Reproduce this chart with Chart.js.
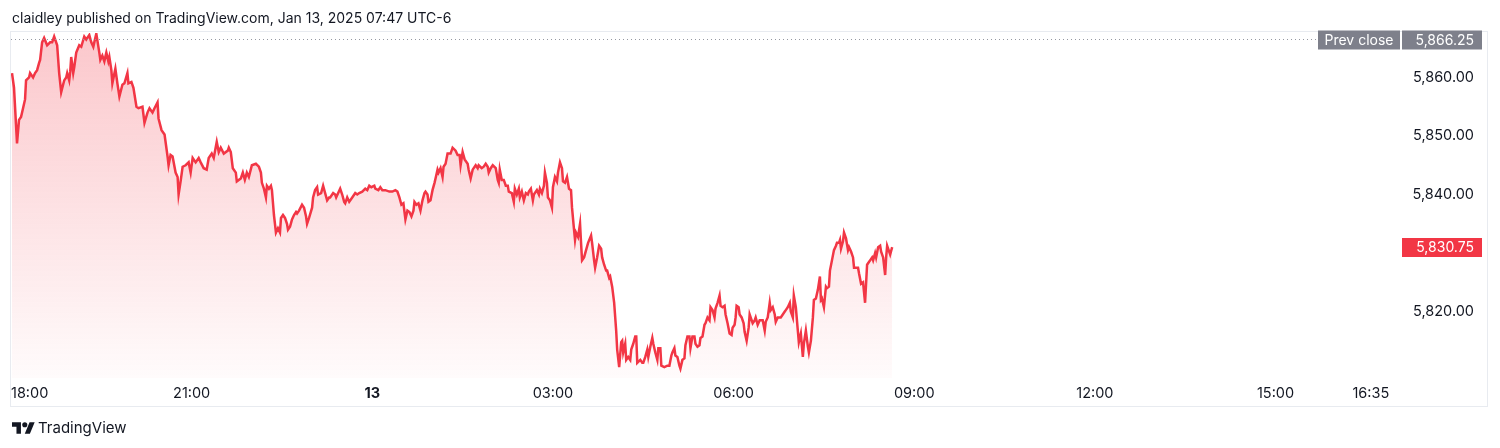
<!DOCTYPE html>
<html lang="en">
<head>
  <meta charset="UTF-8" />
  <title>ES1! intraday</title>
  <script src="https://cdn.jsdelivr.net/npm/chart.js"></script>
  <style>
    body { margin: 0; background: #fff; font-family: Inter, "Noto Sans", sans-serif; color: #131722; }
    #wrap { position: relative; width: 1500px; height: 448px; overflow: hidden; }
    #chart { position: absolute; left: 0; top: 0; }
    #head { position: absolute; left: 12px; top: 8px; font-size: 14px; line-height: 20px; }
    #foot { position: absolute; left: 12px; top: 418px; font-size: 15px; line-height: 20px; display: flex; align-items: center; }
    #foot svg { margin-right: 3px; }
  </style>
</head>
<body>
<div id="wrap">
  <canvas id="chart" width="1500" height="448"></canvas>
  <div id="head">claidley published on TradingView.com, Jan 13, 2025 07:47 UTC-6</div>
  <div id="foot">
    <svg width="23" height="12" viewBox="0 4 36 18"><path fill="#131722" d="M14 22H7V11H0V4h14v18zM28 22h-8l7.5-18h8L28 22z"/><circle fill="#131722" cx="20" cy="8" r="4"/></svg>
    TradingView
  </div>
</div>

<script>
  // minutes after 18:00 (session open), prices
  const minutes = [
    1,3,6,8,10,12,14,15,18,19, 22,24,26,28,29,31,33,36,39,41,
    43,46,48,50,53,55,56,58,59,60, 62,63,65,68,70,73,75,78,80,82,
    83,85,88,89,91,93,95,97,98,100, 101,104,106,108,111,113,116,117,120,122,
    125,127,131,133,136,138,141,143,146,147, 150,153,156,157,159,161,164,166,167,169,
    171,174,177,179,181,184,187,189,192,195, 197,200,202,205,207,209,212,216,
    217,219,221,224,225,229,231,233,235,237, 240,244,247,249,250,252,254,255,257,259,
    260,262,264,266,268,269,271,273,275,276, 278,280,282,284,285,287,290,292,294,295,
    297,300,301,303,305,306,309,311,313,315, 317,318,321,323,324,326,328,330,332,333,
    335,337,340,343,345,347,350,353,355,357, 359,362,363,366,368,370,373,377,380,383,
    385,387,389,391,393,395,397,399,401,402, 404,406,408,410,412,413,415,416,418,420,
    422,423,425,426,428,430,431,433,
    435,438,440,443,445,447,448,450,452,455, 456,458,460,463,465,466,469,471,473,475,
    476,478,480,483,485,486,487,489,491,493, 495,496,499,501,502,504,506,507,509,511,
    513,515,516,518,520,521,524,526,527,529, 531,532,534,535,537,539,540,542,544,545,
    547,549,550,552,554,556,558,559,561,562, 563,565,567,568,569,571,573,575,578,579,
    581,582,584,586,588,589,591,593,594,596, 597,599,601,603,604,606,608,609,610,612,
    613,615,617,618,620,622,623,624,627,629, 630,632,634,635,637,639,640,642,644,645,
    647,648,651,654,656,
    658,659,661,662,664,666,667,669,671,672, 674,676,677,679,681,682,684,686,687,689,
    691,692,694,696,697,699,701,702,704,706, 707,709,711,712,714,716,718,719,721,722,
    723,725,726,728,730,731,733,735,736,737, 739,741,742,744,746,748,749,751,752,754,
    756,757,759,761,762,764,766,767,769,771, 772,774,776,777,779,780,782,784,785,787,
    789,790,792,794,795,797,799,800,802,804, 806,807,808,810,812,813,815,816,818,820,
    822,823,825,826,827,829,830,832,834,835, 837,839,840,842,844,845,847,849,850,851,
    853,855,856,858,859,861,862,864,866,867, 869,871,872,873,875,876,878
  ];
  const prices = [
    5860.5,5858,5848.5,5852.5,5853,5854.5,5856,5859.25,5859.75,5860.5, 5859.75,5860.5,5861,5862.25,5862.75,5865.75,5866.5,5865.25,5865.75,5865.75,
    5866.75,5865.25,5860.5,5857.25,5859.25,5859.75,5860.5,5859.25,5860.75,5863.25, 5860.5,5861.5,5864,5865.25,5865,5866.75,5866.25,5867,5865.75,5865,
    5865.75,5867.25,5864,5862.75,5863.5,5862.5,5864,5862.5,5863.25,5861, 5858.75,5861.25,5858.75,5856.5,5858.5,5858.75,5860.5,5858.75,5859,5858,
    5854.75,5854.5,5854.75,5852,5853.75,5854.5,5853.75,5854.5,5855.5,5852.75, 5850.75,5850,5846.25,5844.75,5846.5,5846.25,5843.5,5842.75,5839.75,5842,
    5844.5,5844.75,5845.25,5843.5,5846,5845.25,5846,5845.25,5844.25,5844, 5846,5846.75,5846,5848.75,5847,5847.75,5846.75,5847.25,
    5847.75,5847,5844.25,5843.5,5842,5842.5,5843.5,5842.25,5843.5,5842.75, 5844.75,5845,5844.5,5843.5,5841.75,5840.75,5839.25,5841.25,5840.75,5841.25,
    5840.5,5836.25,5833.25,5834,5833.25,5835.75,5836.25,5835.75,5834.75,5833.75, 5834.25,5835.5,5836.25,5836.75,5836.5,5837,5838,5837.5,5836,5834.75,
    5835.75,5837.5,5839.25,5840.5,5841,5839.75,5840,5841.25,5840,5838.75, 5839.25,5839.25,5840,5839.75,5839.25,5840,5840.75,5839.75,5838.5,5838.25,
    5839.25,5838.5,5839.25,5840,5839.75,5840,5840.25,5840.75,5840.5,5841.25, 5841,5841.25,5840.75,5840.5,5841,5840.5,5840.5,5840.25,5840.25,5840.5,
    5840.25,5839.25,5838,5838.25,5835.5,5837,5836.75,5836,5837,5838.5, 5838,5838.25,5837,5838.75,5840,5840.25,5839.75,5838.5,5838.75,5840.5,
    5841.75,5842.5,5844,5843.5,5844.25,5842.75,5844.5,5845,
    5846.75,5846.75,5847.75,5847.25,5846.5,5846.5,5844.75,5847,5845.75,5845, 5844,5842.5,5844,5844.75,5844.25,5844.75,5844.25,5844.5,5845,5844.5,
    5843.5,5844.25,5844.75,5844.25,5842.25,5841.75,5844,5842.25,5842.25,5841.25, 5841.25,5840.25,5840,5838.5,5840.75,5839.75,5840.75,5839.25,5840.25,5838.75,
    5840,5839.75,5840.25,5840.75,5838.75,5839.75,5840.5,5839.75,5840.75,5840, 5841.25,5843.5,5841.75,5839.25,5838.75,5837.5,5841,5842.75,5842,5843.5,
    5845.25,5844.25,5842,5841.75,5842.75,5840.75,5840.5,5837.5,5833.75,5832, 5833.25,5832.5,5834.75,5831.5,5828.5,5829,5830.25,5831.5,5832.75,5831.5,
    5828.5,5827.25,5829,5831,5830.5,5829,5827.75,5826.75,5826.75,5825.5, 5825.75,5824,5821.25,5816.5,5813.25,5810.25,5814.5,5814.75,5812.75,5814.25,
    5811.5,5812,5811.5,5813.25,5814.25,5815.5,5815.5,5811,5811.5,5811, 5811,5812,5813.25,5812,5813.75,5815.25,5814.25,5812.75,5811.5,5813.5,
    5813.5,5810.5,5810.25,5810.5,5810.5,
    5812.25,5812.75,5813.5,5812.25,5812,5810.5,5810,5811.5,5811.75,5814, 5815.5,5815.5,5813.5,5815.5,5815.5,5814.25,5813.75,5814,5815.25,5815.5,
    5817.5,5817.75,5818.75,5818.25,5820.5,5820,5818.75,5820.25,5821.25,5822.5, 5820.75,5820.5,5820.75,5819.25,5817.75,5816,5815.75,5817,5817.5,5818.75,
    5820.75,5820.5,5819.25,5818.75,5817.75,5816.25,5814.75,5817,5819.25,5818.75, 5817.75,5818.25,5818.75,5817.5,5818.25,5818.25,5818.25,5816.5,5818,5818.75,
    5821.25,5820,5820.5,5819.25,5818,5818.75,5818.75,5818.75,5819.25,5819.75, 5820,5820.5,5821.25,5819.75,5818.75,5822.5,5820.5,5816.5,5814.5,5816,
    5812,5814.25,5816.5,5813.75,5812.75,5814.75,5818.75,5821.75,5822,5823.5, 5825.75,5821.75,5822,5820.5,5824,5823.75,5824,5826.75,5828.5,5830.25,
    5831,5831.5,5831.5,5832,5830.5,5831.75,5833.25,5832.25,5830.25,5830.75, 5830,5829,5827.25,5827.25,5827.25,5826.25,5824.5,5824.75,5823,5821.25,
    5827.75,5828.25,5828.5,5829,5828.5,5829.75,5829,5830.75,5831,5830, 5829,5826,5829,5831,5830,5829.5,5830.75
  ];

  const xTickValues = [0, 180, 360, 540, 720, 900, 1080, 1260, 1355];
  const xTickLabels = ['18:00', '21:00', '13', '03:00', '06:00', '09:00', '12:00', '15:00', '16:35'];
  const yTickValues = [5820, 5840, 5850, 5860];
  const prevClose = 5866.25;
  const lastPrice = 5830.75;

  const RED = '#f23645';
  const fmt = v => v.toLocaleString('en-US', { minimumFractionDigits: 2, maximumFractionDigits: 2 });
  const FONT = 'Inter, "Noto Sans", sans-serif';

  const overlay = {
    id: 'overlay',
    afterDraw(chart) {
      const c = chart.ctx, a = chart.chartArea, ys = chart.scales.y;
      c.save();
      // frame
      c.strokeStyle = '#e8ebf0';
      c.lineWidth = 1;
      c.strokeRect(10.5, 31.5, 1477, 375);

      // prev close dotted line
      const py = Math.round(ys.getPixelForValue(prevClose)) + 0.5;
      c.setLineDash([1, 3]);
      c.strokeStyle = '#9598a1';
      c.beginPath();
      c.moveTo(a.left, py);
      c.lineTo(1318, py);
      c.stroke();
      c.setLineDash([]);

      c.font = '14px ' + FONT;
      c.textBaseline = 'middle';
      // prev close badges
      c.fillStyle = '#7e808b';
      c.fillRect(1318, py - 9, 82, 19);
      c.fillRect(1402, py - 9, 80, 19);
      c.fillStyle = '#ffffff';
      c.textAlign = 'center';
      c.fillText('Prev close', 1359, py + 1);
      c.textAlign = 'right';
      c.fillText(fmt(prevClose), 1474, py + 1);

      // last price badge
      const ly = Math.round(ys.getPixelForValue(lastPrice));
      c.fillStyle = RED;
      c.fillRect(1402, ly - 9, 80, 19);
      c.fillStyle = '#ffffff';
      c.fillText(fmt(lastPrice), 1474, ly + 1);
      c.restore();
    }
  };

  new Chart(document.getElementById('chart'), {
    type: 'line',
    data: {
      datasets: [{
        data: minutes.map((m, i) => ({ x: m, y: prices[i] })),
        borderColor: RED,
        borderWidth: 2.5,
        pointRadius: 0,
        tension: 0,
        fill: 'start',
        backgroundColor: (ctx) => {
          const area = ctx.chart.chartArea;
          if (!area) return 'rgba(242,54,69,0.15)';
          const g = ctx.chart.ctx.createLinearGradient(0, area.top, 0, area.bottom);
          g.addColorStop(0, 'rgba(242,54,69,0.28)');
          g.addColorStop(1, 'rgba(242,54,69,0.02)');
          return g;
        }
      }]
    },
    options: {
      responsive: false,
      animation: false,
      devicePixelRatio: 1,
      layout: { padding: { left: 11, top: 33, right: 26, bottom: 42 } },
      plugins: { legend: { display: false }, tooltip: { enabled: false } },
      scales: {
        x: {
          type: 'linear',
          min: 0,
          max: 1384,
          afterBuildTicks: s => { s.ticks = xTickValues.concat([1384]).map(v => ({ value: v })); },
          afterFit: s => { s.height = 28; },
          grid: { display: false, drawTicks: false, tickLength: 0 },
          border: { display: false },
          ticks: {
            autoSkip: false,
            maxRotation: 0,
            align: 'inner',
            padding: 7,
            color: '#131722',
            font: c => ({ family: FONT, size: 14.5, weight: c.tick && c.tick.value === 360 ? 'bold' : 'normal' }),
            callback: (v, i) => xTickLabels[i] || ''
          }
        },
        y: {
          type: 'linear',
          position: 'right',
          min: 5808.4,
          max: 5867.35,
          afterBuildTicks: s => { s.ticks = yTickValues.map(v => ({ value: v })); },
          afterFit: s => { s.width = 74; },
          grid: { display: false, drawTicks: false, tickLength: 0 },
          border: { display: false },
          ticks: {
            crossAlign: 'far',
            padding: 0,
            labelOffset: 1.5,
            color: '#131722',
            font: { family: FONT, size: 14.5 },
            callback: v => fmt(v)
          }
        }
      }
    },
    plugins: [overlay]
  });
</script>
</body>
</html>
